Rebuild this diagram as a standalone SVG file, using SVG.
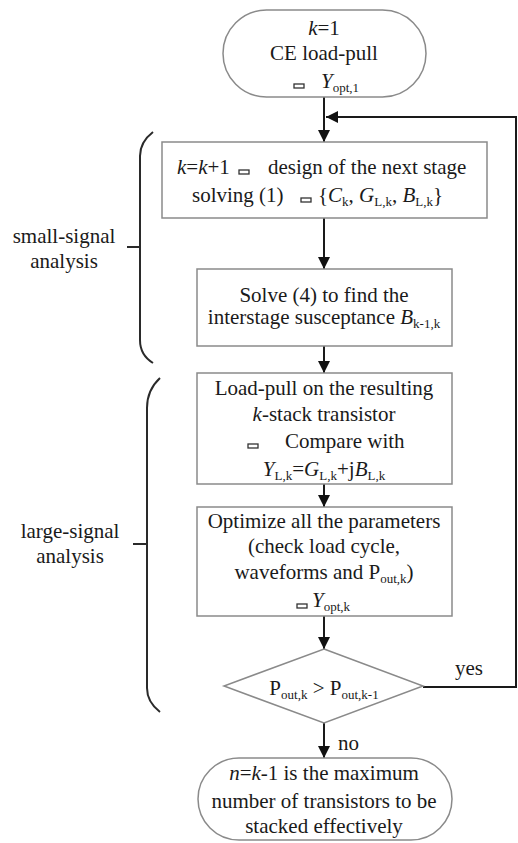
<svg xmlns="http://www.w3.org/2000/svg" width="518" height="843" viewBox="0 0 518 843">
<defs>
<style>
.lbl{font-size:21px;fill:#1a1a1a}
.mid{text-anchor:middle}
.ital{font-style:italic}
.sub{font-size:13px}
.box{fill:#fff;stroke:#8a8a8a;stroke-width:1.5}
.ln{fill:none;stroke:#1a1a1a;stroke-width:2}
.br{fill:none;stroke:#2a2a2a;stroke-width:2}
.sym{fill:#fff;stroke:#333;stroke-width:1.3}
</style>
<marker id="ah" markerUnits="userSpaceOnUse" markerWidth="12" markerHeight="18" viewBox="0 0 12 18" refX="12" refY="6" orient="auto">
<path d="M0,0 L12,6 L0,12 Z" fill="#111"/>
</marker>
</defs>
<rect width="518" height="843" fill="#fff"/>

<g id="connectors">
<line class="ln" x1="324" y1="97" x2="324" y2="142" marker-end="url(#ah)"/>
<line class="ln" x1="324" y1="218" x2="324" y2="269" marker-end="url(#ah)"/>
<line class="ln" x1="324" y1="346" x2="324" y2="373" marker-end="url(#ah)"/>
<line class="ln" x1="324" y1="484" x2="324" y2="507" marker-end="url(#ah)"/>
<line class="ln" x1="324" y1="616" x2="324" y2="649" marker-end="url(#ah)"/>
<line class="ln" x1="324" y1="723" x2="324" y2="758" marker-end="url(#ah)"/>
<polyline class="ln" points="423,687 516,687 516,117 326,117" marker-end="url(#ah)"/>
<text class="lbl" style="font-family:'Liberation Serif',serif" x="455" y="675">yes</text>
<text class="lbl" style="font-family:'Liberation Serif',serif" x="338" y="750">no</text>
</g>

<g id="start">
<rect class="box" x="223" y="10" width="203" height="87" rx="43.5" ry="43.5"/>
<text class="lbl mid" style="font-family:'Liberation Serif',serif" x="324" y="35"><tspan class="ital">k</tspan>=1</text>
<text class="lbl mid" style="font-family:'Liberation Serif',serif" x="324" y="60">CE load-pull</text>
<rect class="sym" x="294" y="84" width="10" height="4"/>
<text class="lbl" style="font-family:'Liberation Serif',serif" x="321" y="88"><tspan class="ital">Y</tspan><tspan class="sub" dy="4">opt,1</tspan></text>
</g>

<g id="design">
<rect class="box" x="162" y="142" width="325" height="76"/>
<text class="lbl" style="font-family:'Liberation Serif',serif" x="177" y="174"><tspan class="ital">k</tspan>=<tspan class="ital">k</tspan>+1</text>
<rect class="sym" x="239" y="170" width="10" height="4"/>
<text class="lbl" style="font-family:'Liberation Serif',serif" x="268" y="174">design of the next stage</text>
<text class="lbl" style="font-family:'Liberation Serif',serif" x="192" y="202">solving (1)</text>
<rect class="sym" x="301" y="198" width="10" height="4"/>
<text class="lbl" style="font-family:'Liberation Serif',serif" x="318" y="202">{<tspan class="ital">C</tspan><tspan class="sub" dy="4">k</tspan><tspan dy="-4">, </tspan><tspan class="ital">G</tspan><tspan class="sub" dy="4">L,k</tspan><tspan dy="-4">, </tspan><tspan class="ital">B</tspan><tspan class="sub" dy="4">L,k</tspan><tspan dy="-4">}</tspan></text>
</g>

<g id="solve">
<rect class="box" x="197" y="269" width="255" height="77"/>
<text class="lbl mid" style="font-family:'Liberation Serif',serif" x="324" y="302">Solve (4) to find the</text>
<text class="lbl mid" style="font-family:'Liberation Serif',serif" x="324" y="324">interstage susceptance <tspan class="ital">B</tspan><tspan class="sub" dy="4">k-1,k</tspan></text>
</g>

<g id="loadpull">
<rect class="box" x="197" y="373" width="255" height="111"/>
<text class="lbl mid" style="font-family:'Liberation Serif',serif" x="324" y="395">Load-pull on the resulting</text>
<text class="lbl mid" style="font-family:'Liberation Serif',serif" x="324" y="421"><tspan class="ital">k</tspan>-stack transistor</text>
<rect class="sym" x="248" y="444" width="10" height="4"/>
<text class="lbl" style="font-family:'Liberation Serif',serif" x="285" y="448">Compare with</text>
<text class="lbl mid" style="font-family:'Liberation Serif',serif" x="324" y="476"><tspan class="ital">Y</tspan><tspan class="sub" dy="4">L,k</tspan><tspan dy="-4">=</tspan><tspan class="ital">G</tspan><tspan class="sub" dy="4">L,k</tspan><tspan dy="-4">+j</tspan><tspan class="ital">B</tspan><tspan class="sub" dy="4">L,k</tspan></text>
</g>

<g id="optimize">
<rect class="box" x="197" y="507" width="255" height="109"/>
<text class="lbl mid" style="font-family:'Liberation Serif',serif" x="324" y="528">Optimize all the parameters</text>
<text class="lbl mid" style="font-family:'Liberation Serif',serif" x="324" y="553">(check load cycle,</text>
<text class="lbl mid" style="font-family:'Liberation Serif',serif" x="324" y="579">waveforms and P<tspan class="sub" dy="4">out,k</tspan><tspan dy="-4">)</tspan></text>
<rect class="sym" x="297" y="604" width="10" height="4"/>
<text class="lbl" style="font-family:'Liberation Serif',serif" x="312" y="607"><tspan class="ital">Y</tspan><tspan class="sub" dy="4">opt,k</tspan></text>
</g>

<g id="decision">
<polygon class="box" points="324,649 423,686 324,723 224,686"/>
<text class="lbl mid" style="font-family:'Liberation Serif',serif" x="324" y="695">P<tspan class="sub" dy="4">out,k</tspan><tspan dy="-4"> &gt; P</tspan><tspan class="sub" dy="4">out,k-1</tspan></text>
</g>

<g id="end">
<rect class="box" x="198" y="758" width="254" height="82" rx="41" ry="41"/>
<text class="lbl mid" style="font-family:'Liberation Serif',serif" x="324" y="780"><tspan class="ital">n</tspan>=<tspan class="ital">k</tspan>-1 is the maximum</text>
<text class="lbl mid" style="font-family:'Liberation Serif',serif" x="324" y="808">number of transistors to be</text>
<text class="lbl mid" style="font-family:'Liberation Serif',serif" x="324" y="833">stacked effectively</text>
</g>

<g id="small-signal">
<path class="br" d="M153,132 Q140,142 140,156 L140,340 Q140,355 153,363"/>
<line class="br" x1="127" y1="247" x2="140" y2="247"/>
<text class="lbl mid" style="font-family:'Liberation Serif',serif" x="64" y="243">small-signal</text>
<text class="lbl mid" style="font-family:'Liberation Serif',serif" x="64" y="268">analysis</text>
</g>

<g id="large-signal">
<path class="br" d="M160,378 Q147,390 147,408 L147,688 Q147,702 160,712"/>
<line class="br" x1="133" y1="544" x2="147" y2="544"/>
<text class="lbl mid" style="font-family:'Liberation Serif',serif" x="70" y="538">large-signal</text>
<text class="lbl mid" style="font-family:'Liberation Serif',serif" x="70" y="563">analysis</text>
</g>
</svg>
